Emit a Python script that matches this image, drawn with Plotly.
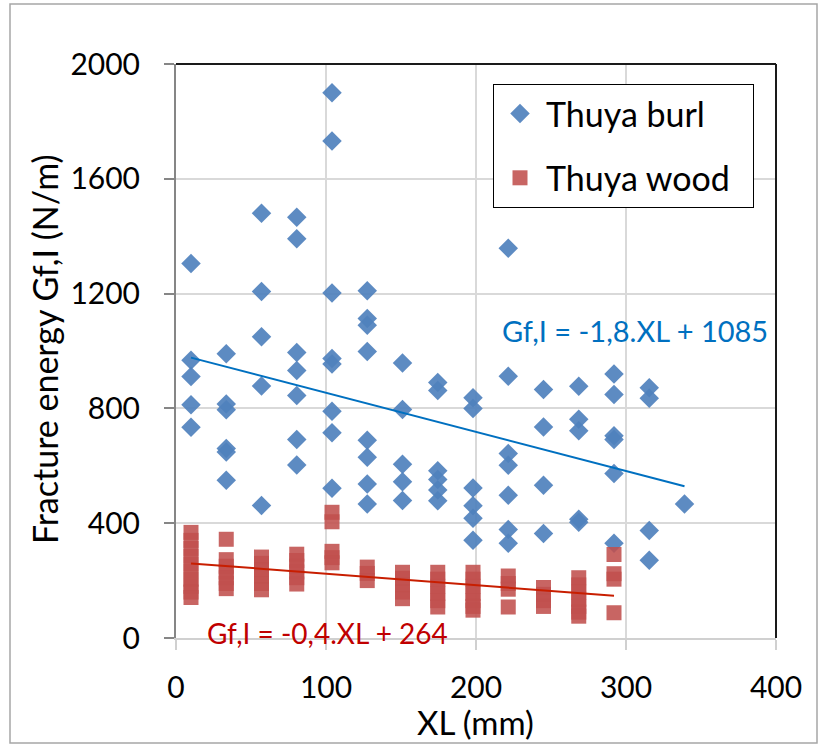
import plotly.graph_objects as go

# ---- data ----
burl_x = ([10]*5 + [33.5]*6 + [57]*5 + [80.5]*7 + [104]*8 + [127.5]*8 + [151]*5 +
          [174.5]*6 + [198]*6 + [221.5]*7 + [245]*4 + [268.5]*5 + [292]*6 + [315.5]*4 + [339])
burl_y = [1305, 968, 911, 813, 734,
          990, 815, 795, 660, 648, 550,
          1480, 1207, 1050, 878, 462,
          1466, 1391, 995, 932, 845, 692, 603,
          1900, 1732, 1202, 974, 955, 790, 715, 522,
          1210, 1113, 1090, 998, 689, 630, 537, 467,
          958, 796, 605, 544, 479,
          890, 862, 583, 552, 516, 478,
          837, 800, 523, 461, 417, 341,
          1358, 912, 643, 602, 497, 378, 330,
          866, 735, 532, 364,
          877, 762, 722, 414, 403,
          920, 848, 705, 692, 573, 330,
          872, 835, 375, 271,
          467]

wood_x = ([10]*10 + [33.5]*7 + [57]*6 + [80.5]*6 + [104]*5 + [127.5]*3 + [151]*5 +
          [174.5]*6 + [198]*7 + [221.5]*4 + [245]*4 + [268.5]*7 + [292]*4)
wood_y = [368, 340, 312, 285, 258, 232, 205, 180, 160, 141,
          344, 273, 250, 230, 210, 190, 172,
          282, 260, 238, 215, 190, 168,
          292, 270, 250, 230, 210, 188,
          438, 405, 302, 280, 262,
          247, 225, 200,
          229, 208, 185, 160, 137,
          229, 205, 180, 155, 130, 108,
          229, 205, 180, 155, 130, 110, 97,
          216, 190, 170, 108,
          176, 152, 130, 110,
          210, 185, 160, 135, 110, 90, 76,
          291, 224, 205, 88]

burl_fit_x = [10, 339]
burl_fit_y = [977, 529]
wood_fit_x = [10, 292]
wood_fit_y = [260, 147]

series_names = ["Thuya burl", "Thuya wood"]
burl_eq = "Gf,I = -1,8.XL + 1085"
wood_eq = "Gf,I = -0,4.XL + 264"
x_ticks = [0, 100, 200, 300, 400]
y_ticks = [0, 400, 800, 1200, 1600, 2000]

FONT = "Lato, 'Open Sans', sans-serif"
BLUE = "rgba(79,129,189,0.92)"
RED = "rgba(192,80,77,0.88)"
PAD = "\u00a0\u00a0"

fig = go.Figure()
fig.add_trace(go.Scatter(x=burl_x, y=burl_y, mode="markers", name=series_names[0] + PAD,
                         legendgroup="a",
                         marker=dict(symbol="diamond", size=15, color=BLUE, line=dict(width=0))))
fig.add_trace(go.Scatter(x=wood_x, y=wood_y, mode="markers", name=series_names[1] + PAD,
                         legendgroup="b",
                         marker=dict(symbol="square", size=15, color=RED, line=dict(width=0))))
fig.add_trace(go.Scatter(x=burl_fit_x, y=burl_fit_y, mode="lines", showlegend=False,
                         line=dict(color="#0070C0", width=2)))
fig.add_trace(go.Scatter(x=wood_fit_x, y=wood_fit_y, mode="lines", showlegend=False,
                         line=dict(color="#C81E00", width=2)))

W, H = 818, 744
L, R, T, B = 176, 42, 64, 106
pw, ph = W - L - R, H - T - B

def px(xpix):
    return (xpix - L) / pw

def py(ypix):
    return (H - B - ypix) / ph

fig.update_layout(
    width=W, height=H,
    margin=dict(l=L, r=R, t=T, b=B),
    paper_bgcolor="white", plot_bgcolor="white",
    font=dict(family=FONT, color="black"),
    showlegend=True,
    legend=dict(x=px(493), y=py(84), xanchor="left", yanchor="top",
                bgcolor="white", bordercolor="black", borderwidth=1,
                font=dict(size=34, family=FONT, color="black"),
                traceorder="grouped", tracegroupgap=17, itemwidth=42),
    xaxis=dict(range=[0, 400], tickvals=x_ticks, showgrid=True, gridcolor="#d9d9d9", gridwidth=1.5,
               zeroline=False, showline=True, linecolor="#d0d0d0", linewidth=1.5,
               ticks="outside", ticklen=10, tickcolor="#d0d0d0", tickwidth=1.5,
               tickfont=dict(size=30, family=FONT, color="black"), ticklabelstandoff=12),
    yaxis=dict(range=[0, 2000], tickvals=y_ticks, showgrid=True, gridcolor="#d9d9d9", gridwidth=1.5,
               zeroline=False, showline=True, linecolor="#868686", linewidth=2,
               ticks="outside", ticklen=10, tickcolor="#868686", tickwidth=2,
               tickfont=dict(size=30, family=FONT, color="black"), ticklabelstandoff=18),
    shapes=[
        dict(type="rect", xref="paper", yref="paper", x0=px(10), x1=px(817), y0=py(743), y1=py(4),
             line=dict(color="#a6a6a6", width=1.5), fillcolor="rgba(0,0,0,0)", layer="below"),
        dict(type="line", xref="paper", yref="paper", x0=0, x1=1, y0=1, y1=1,
             line=dict(color="#1a1a1a", width=2)),
        dict(type="line", xref="paper", yref="paper", x0=1, x1=1, y0=0, y1=1,
             line=dict(color="#1a1a1a", width=2)),
    ],
    annotations=[
        dict(text=burl_eq, x=306, y=1073, xref="x", yref="y", showarrow=False,
             xanchor="center", yanchor="middle",
             font=dict(size=29, family=FONT, color="#0070C0")),
        dict(text=wood_eq, x=101, y=17, xref="x", yref="y", showarrow=False,
             xanchor="center", yanchor="middle",
             font=dict(size=28, family=FONT, color="#C00000")),
        dict(text="XL (mm)", x=px(475), y=py(722), xref="paper", yref="paper", showarrow=False,
             xanchor="center", yanchor="middle",
             font=dict(size=33, family=FONT, color="black")),
        dict(text="Fracture energy Gf,I (N/m)", x=px(44), y=py(349), xref="paper", yref="paper",
             showarrow=False, textangle=-90, xanchor="center", yanchor="middle",
             font=dict(size=34, family=FONT, color="black")),
    ],
)

fig.write_html("out.html", config={"displayModeBar": False},
               post_script="document.body.style.margin='0';")
